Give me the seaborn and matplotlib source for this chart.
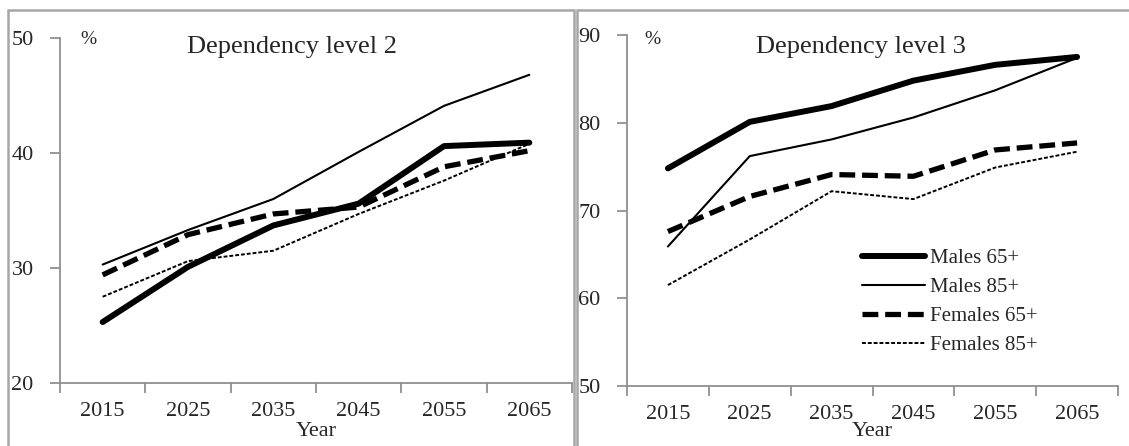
import numpy as np
import pandas as pd
import matplotlib
matplotlib.use("Agg")
import matplotlib.pyplot as plt
from matplotlib.patches import Rectangle
import seaborn as sns

years = ["2015", "2025", "2035", "2045", "2055", "2065"]
series = ["Males 65+", "Males 85+", "Females 65+", "Females 85+"]

# dependency level 2 (%)
males65_l2 = [25.3, 30.1, 33.7, 35.6, 40.6, 40.9]
males85_l2 = [30.3, 33.3, 36.0, 40.1, 44.1, 46.8]
females65_l2 = [29.4, 32.9, 34.7, 35.3, 38.8, 40.2]
females85_l2 = [27.5, 30.6, 31.5, 34.7, 37.6, 40.8]

# dependency level 3 (%)
males65_l3 = [74.8, 80.1, 81.9, 84.8, 86.6, 87.5]
males85_l3 = [65.9, 76.2, 78.1, 80.6, 83.7, 87.4]
females65_l3 = [67.6, 71.6, 74.1, 73.9, 76.9, 77.7]
females85_l3 = [61.5, 66.7, 72.2, 71.3, 74.9, 76.7]

styles = {
    "Males 65+": dict(lw=4.3, ls="-"),
    "Males 85+": dict(lw=1.5, ls="-"),
    "Females 65+": dict(lw=3.8, ls=(0, (3.0, 1.3))),
    "Females 85+": dict(lw=1.4, ls=(0, (2.0, 1.0))),
}

sns.set_style("white")
plt.rcParams["font.family"] = ["Liberation Serif", "DejaVu Serif"]

W, H = 1129, 446
fig = plt.figure(figsize=(W / 100, H / 100), dpi=100)


def fx(px):
    return px / W


def fy(py):
    return 1 - py / H


# panel frames
for x0, x1 in [(8, 574), (577, 1140)]:
    fig.patches.append(Rectangle((fx(x0), -0.1), fx(x1) - fx(x0), fy(10) + 0.1,
                                 transform=fig.transFigure, fill=False,
                                 edgecolor="#a6a6a6", lw=1.8, zorder=0))

panels = [
    dict(rect=[fx(60), fy(383), fx(572) - fx(60), fy(38) - fy(383)],
         data=[males65_l2, males85_l2, females65_l2, females85_l2],
         ylim=(20, 50), title="Dependency level 2", tx=292, px=88),
    dict(rect=[fx(627), fy(386), fx(1118) - fx(627), fy(35) - fy(386)],
         data=[males65_l3, males85_l3, females65_l3, females85_l3],
         ylim=(50, 90), title="Dependency level 3", tx=861, px=652),
]

for i, p in enumerate(panels):
    ax = fig.add_axes(p["rect"])
    ax.patch.set_alpha(0)
    df = pd.DataFrame({"pos": np.arange(len(years))})
    for name, vals in zip(series, p["data"]):
        df[name] = vals
    for name in series:
        st = styles[name]
        sns.lineplot(data=df, x="pos", y=name, ax=ax, color="black",
                     lw=st["lw"], linestyle=st["ls"], label=name,
                     solid_capstyle="round", dash_capstyle="butt")
    ax.set_xlim(-0.5, len(years) - 0.5)
    ax.set_ylim(*p["ylim"])
    ax.set_yticks(np.arange(p["ylim"][0], p["ylim"][1] + 1, 10))
    ax.set_xticks(np.arange(-0.5, len(years), 1.0))
    ax.set_xticklabels([])
    ax.set_xticks(np.arange(len(years)), minor=True)
    ax.set_xticklabels(years, minor=True)
    ax.tick_params(axis="x", which="major", direction="out", length=7,
                   width=1.3, color="#909090", bottom=True)
    ax.tick_params(axis="x", which="minor", length=0, pad=14, labelsize=16)
    ax.tick_params(axis="y", direction="out", length=7, width=1.3,
                   color="#909090", left=True, pad=12, labelsize=16)
    for s in ["top", "right"]:
        ax.spines[s].set_visible(False)
    for s in ["left", "bottom"]:
        ax.spines[s].set_color("#909090")
        ax.spines[s].set_linewidth(1.3)
    ax.set_xlabel("")
    ax.set_ylabel("")
    ax_mid = p["rect"][0] + p["rect"][2] / 2
    fig.text(ax_mid, fy(432), "Year", ha="center", va="center", fontsize=16)
    fig.text(fx(p["tx"]), fy(47), p["title"], ha="center", va="center",
             fontsize=19)
    fig.text(fx(p["px"]), fy(39), "%", ha="center", va="center", fontsize=14)
    if i == 1:
        ax.legend(loc="center left", bbox_to_anchor=(fx(862), fy(302)),
                  bbox_transform=fig.transFigure, frameon=False, fontsize=15,
                  handlelength=3.0, handletextpad=0.25, labelspacing=0.45,
                  borderpad=0, borderaxespad=0)
    else:
        ax.get_legend().remove()

fig.savefig("out.png", dpi=100)
